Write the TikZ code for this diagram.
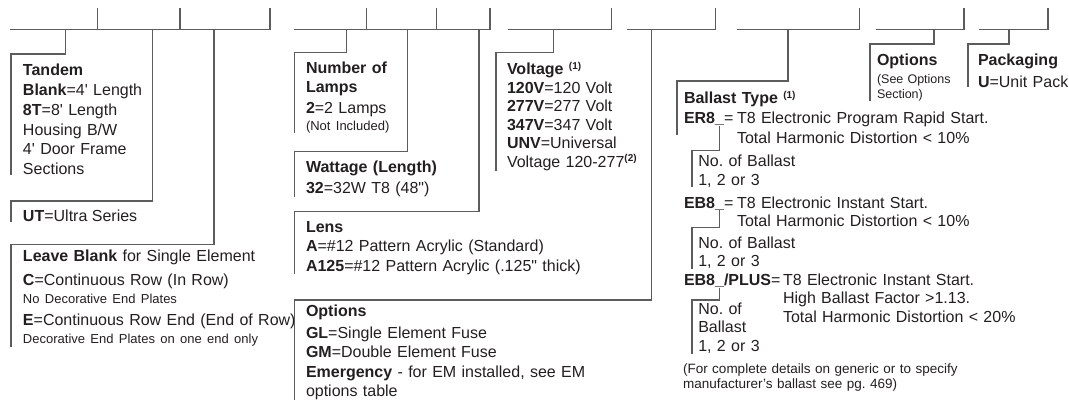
\documentclass[tikz,border=0pt]{standalone}
\usepackage{fontspec}
\newfontfamily\chartfont{Liberation Sans}
\definecolor{ink}{HTML}{231F20}
\definecolor{wiregray}{HTML}{5C5C5C}
\newcommand{\bodysz}[1]{\chartfont\frenchspacing\fontsize{16}{#1}\selectfont}
\newcommand{\smallsz}{\fontsize{13}{16}\selectfont}
\newcommand{\notesz}{\chartfont\frenchspacing\fontsize{13.5}{15.5}\selectfont}
\newcommand{\sups}[1]{\raisebox{5.5pt}{\fontsize{10}{10}\selectfont\bfseries #1}}
\tikzset{
  wire/.style={draw=wiregray, line width=1.2pt},
  txt/.style={anchor=base west, inner sep=0pt, outer sep=0pt, text=ink, font=\bodysz{19.5}},
  blk/.style={txt, text width=320pt, align=left, font=\bodysz{#1}},
  blk/.default=19.5
}
\begin{document}
\begin{tikzpicture}[x=1pt, y=-1pt]
  \def\ruley{29.5}
  \def\ticky{8.3}
  \useasboundingbox (0,0) rectangle (1069,403);
  % code rules: start/end/ticks
  \foreach \a/\b/\ticks in {11/270/{97.3,180,270}, 294.3/490/{366.7,436.7,490},
      508.3/611.7/{611.7}, 627.3/715.7/{715.7}, 737.3/859.3/{859.3},
      877/964/{964}, 980/1048/{1048}}{
    \draw[wire, line cap=rect] (\a,\ruley) -- (\b,\ruley);
    \foreach \x in \ticks \draw[wire] (\x,\ticky) -- (\x,\ruley);
  }
  % slots under the code boxes
  \foreach \n/\x in {sTandem/65.3, sSeries/152.3, sElement/214, sLamps/346.7,
      sWatt/407.7, sLens/479, sVolt/553.3, sFuse/651.7, sBallast/788,
      sSee/934, sPack/1009}
    \coordinate (\n) at (\x,\ruley);

  % tandem, series, element
  \node[blk=19.7, inner xsep=12pt] (tandem) at (11,76)
    {\textbf{Tandem}\\\textbf{Blank}=4' Length\\\textbf{8T}=8' Length\\Housing B/W\\4' Door Frame\\Sections};
  \node[txt, inner xsep=12pt] (series) at (11,221.7) {\textbf{UT}=Ultra Series};
  \node[blk=18, inner xsep=12pt] (element) at (11,262)
    {\textbf{Leave Blank} for Single Element\\[6pt]\textbf{C}=Continuous Row (In Row)\\
     {\smallsz No Decorative End Plates}\\[4pt]\textbf{E}=Continuous Row End (End of Row)\\
     {\smallsz Decorative End Plates on one end only}};
  \draw[wire] (sTandem) |- ([yshift=10.4pt]tandem.north west) -- (tandem.south west);
  \draw[wire] (sSeries) |- ([yshift=9.1pt]series.north west) -- (series.south west);
  \draw[wire] (sElement) |- ([yshift=6.1pt]element.north west) -- (element.south west);

  % lamps, wattage, lens, options
  \node[blk=19, inner xsep=11.7pt] (lamps) at (294.3,73.3)
    {\textbf{Number of}\\\textbf{Lamps}\\[2pt]\textbf{2}=2 Lamps\\[-1.5pt]{\smallsz (Not Included)}};
  \node[blk=21.3, inner xsep=11.7pt] (watt) at (294.3,172.7)
    {\textbf{Wattage (Length)}\\\textbf{32}=32W T8 (48")};
  \node[blk=19.2, inner xsep=11.7pt] (lens) at (294.3,232.7)
    {\textbf{Lens}\\\textbf{A}=\#12 Pattern Acrylic (Standard)\\\textbf{A125}=\#12 Pattern Acrylic (.125" thick)};
  \node[blk=19.5, inner xsep=11.7pt] (fuse) at (294.3,317)
    {\textbf{Options}\\[2pt]\textbf{GL}=Single Element Fuse\\\textbf{GM}=Double Element Fuse\\
     \textbf{Emergency} - for EM installed, see EM\\options table};
  \draw[wire] (sLamps) |- ([yshift=9pt]lamps.north west) -- (lamps.south west);
  \draw[wire] (sWatt) |- ([yshift=9.4pt]watt.north west) -- (watt.south west);
  \draw[wire] (sLens) |- ([yshift=10.1pt]lens.north west) -- (lens.south west);
  \draw[wire] (sFuse) |- ([yshift=5.4pt]fuse.north west) -- (fuse.south west);

  % voltage
  \node[blk=18.5, inner xsep=11pt] (volt) at (496,75)
    {\textbf{Voltage} \sups{(1)}\\\textbf{120V}=120 Volt\\\textbf{277V}=277 Volt\\\textbf{347V}=347 Volt\\
     \textbf{UNV}=Universal\\Voltage 120-277\sups{(2)}};
  \draw[wire] (sVolt) |- ([yshift=9.5pt]volt.north west) -- (volt.south west);

  % ballast
  \node[blk=20, inner xsep=7pt] (ballast) at (677,104) {\textbf{Ballast Type} \sups{(1)}\\\textbf{ER8\_}=};
  \node[blk=19.3] (er8d) at (737,124) {T8 Electronic Program Rapid Start.\\Total Harmonic Distortion < 10\%};
  \node[blk=18.5, inner xsep=6.3pt] (er8n) at (692,166.7) {No. of Ballast\\1, 2 or 3};
  \node[txt] (eb8) at (684,208.3) {\textbf{EB8\_}=};
  \node[blk=18.4] (eb8d) at (737,208.3) {T8 Electronic Instant Start.\\Total Harmonic Distortion < 10\%};
  \node[blk=18.5, inner xsep=6.3pt] (eb8n) at (692,248.3) {No. of Ballast\\1, 2 or 3};
  \node[txt] (plus) at (684,285.7) {\textbf{EB8\_/PLUS}=};
  \node[blk=18.3] (plusd) at (783,285.7)
    {T8 Electronic Instant Start.\\High Ballast Factor >1.13.\\Total Harmonic Distortion < 20\%};
  \node[blk=18.7, inner xsep=6.3pt] (plusn) at (692,314.3) {No. of\\Ballast\\1, 2 or 3};
  \node[blk, font=\notesz] (note) at (683,373.3)
    {(For complete details on generic or to specify\\manufacturer’s ballast see pg. 469)};
  \draw[wire] (sBallast) |- ([yshift=10.2pt]ballast.north west) -- ([yshift=-9pt]ballast.south west);
  % stems under the underscores
  \coordinate (u1) at (719.5,126);
  \coordinate (u2) at (719.5,210.3);
  \coordinate (u3) at (719.5,287.7);
  \draw[wire] (u1) |- ([yshift=4.4pt]er8n.north west) -- (er8n.south west);
  \draw[wire] (u2) |- ([yshift=9.4pt]eb8n.north west) -- (eb8n.south west);
  \draw[wire] (u3) |- ([yshift=2.7pt]plusn.north west) -- (plusn.south west);

  % options, packaging
  \node[blk, inner xsep=7pt, font=\chartfont\frenchspacing\fontsize{12.5}{15.5}\selectfont] (see) at (870,65.7)
    {{\bodysz{15.5}\bfseries Options}\\[2pt](See Options\\Section)};
  \node[blk=21.6, inner xsep=10pt] (pack) at (968,65.7) {\textbf{Packaging}\\\textbf{U}=Unit Pack};
  \draw[wire] (sSee) |- ([yshift=10.1pt]see.north west) -- (see.south west);
  \draw[wire] (sPack) |- ([yshift=10.1pt]pack.north west) -- (pack.south west);
\end{tikzpicture}
\end{document}
